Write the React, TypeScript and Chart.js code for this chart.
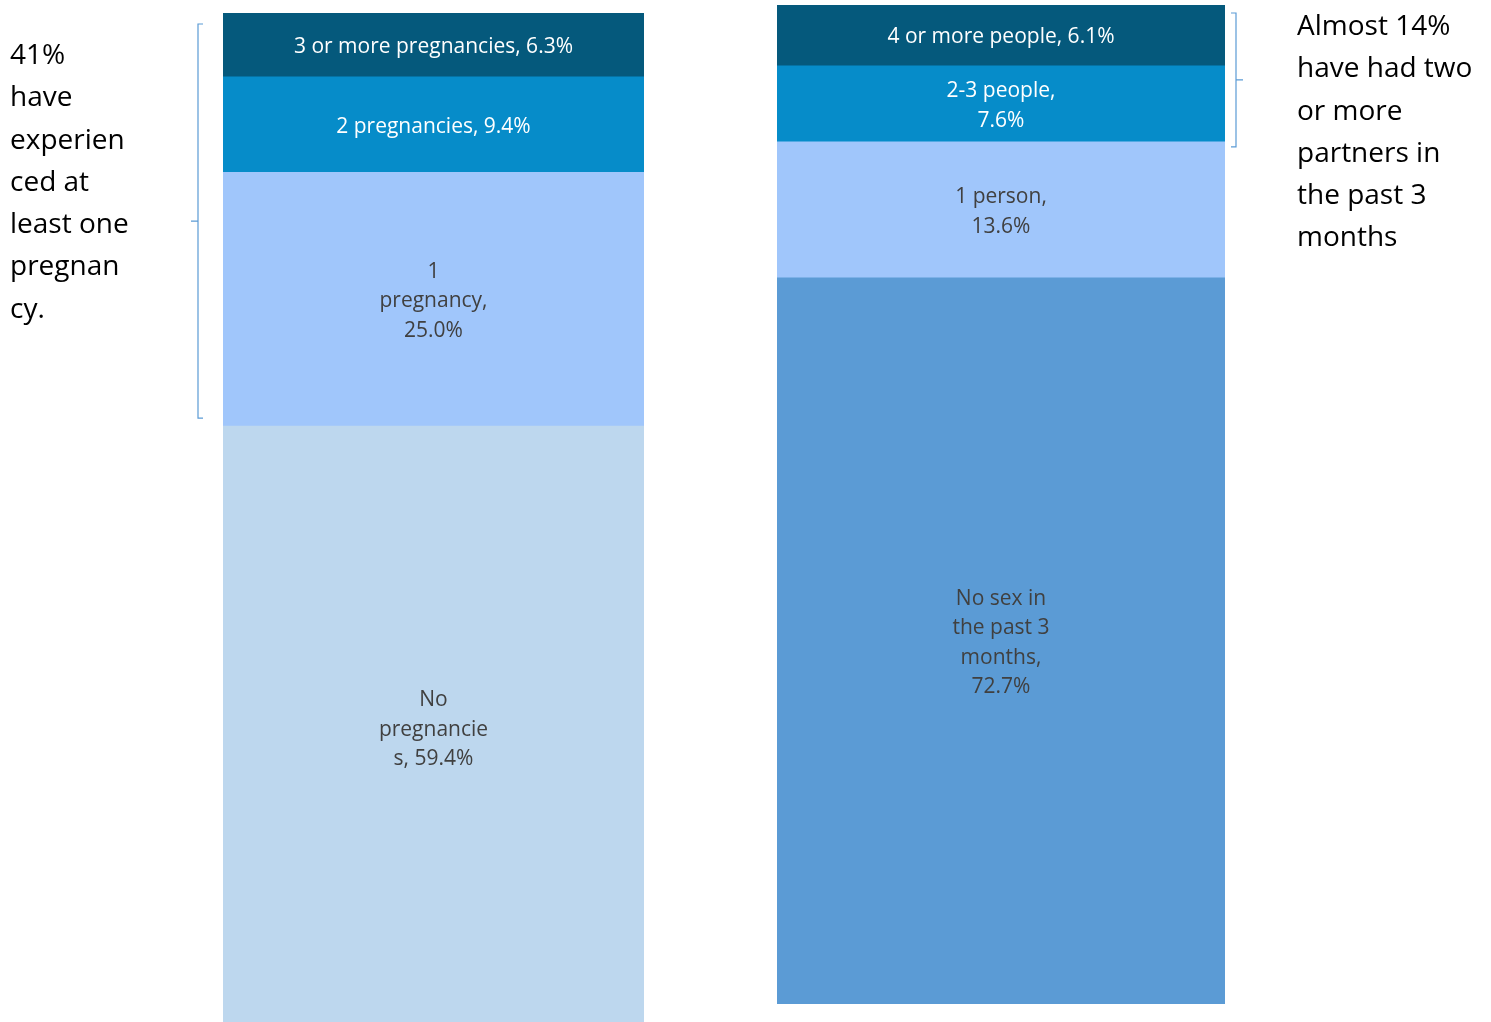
import React, { useEffect, useRef } from "react";
import { Chart, registerables } from "chart.js";
Chart.register(...registerables);

// Top-to-bottom order as shown in the picture
const leftCategories = ["3 or more pregnancies", "2 pregnancies", "1 pregnancy", "No pregnancies"];
const leftValues = [6.3, 9.4, 25.0, 59.4];
const leftLabelLines = [
  ["3 or more pregnancies, 6.3%"],
  ["2 pregnancies, 9.4%"],
  ["1", "pregnancy,", "25.0%"],
  ["No", "pregnancie", "s, 59.4%"],
];
const leftColors = ["#05597C", "#068CC9", "#A0C6FB", "#BDD7EE"];
const leftTextColors = ["#FFFFFF", "#FFFFFF", "#404040", "#404040"];
const leftNote = ["41%", "have", "experien", "ced at", "least one", "pregnan", "cy."];

const rightCategories = ["4 or more people", "2-3 people", "1 person", "No sex in the past 3 months"];
const rightValues = [6.1, 7.6, 13.6, 72.7];
const rightLabelLines = [
  ["4 or more people, 6.1%"],
  ["2-3 people,", "7.6%"],
  ["1 person,", "13.6%"],
  ["No sex in", "the past 3", "months,", "72.7%"],
];
const rightColors = ["#05597C", "#068CC9", "#A0C6FB", "#5B9BD5"];
const rightTextColors = ["#FFFFFF", "#FFFFFF", "#404040", "#404040"];
const rightNote = ["Almost 14%", "have had two", "or more", "partners in", "the past 3", "months"];

const W = 1491;
const H = 1022;
const LABEL_FONT = '21px "Open Sans", sans-serif';
const NOTE_FONT = '"Open Sans", sans-serif';

type Cfg = {
  categories: string[];
  values: number[];
  lines: string[][];
  colors: string[];
  textColors: string[];
  padding: { left: number; right: number; top: number; bottom: number };
  bracket: { side: "left" | "right"; count: number; x: number; insetTop: number; insetBottom: number };
};

function makeChart(canvas: HTMLCanvasElement, cfg: Cfg) {
  const n = cfg.values.length;
  const order = [...Array(n).keys()].reverse(); // bottom first for stacking
  const total = cfg.values.reduce((a, b) => a + b, 0);

  const labelPlugin = {
    id: "segLabels",
    afterDatasetsDraw(chart: any) {
      const ctx = chart.ctx;
      ctx.save();
      ctx.font = LABEL_FONT;
      ctx.textAlign = "center";
      ctx.textBaseline = "middle";
      chart.data.datasets.forEach((ds: any, di: number) => {
        const el = chart.getDatasetMeta(di).data[0];
        const idx = ds.srcIndex;
        const lines = cfg.lines[idx];
        const cy = (el.y + el.base) / 2 + 2;
        const lh = 29.5;
        ctx.fillStyle = cfg.textColors[idx];
        lines.forEach((ln: string, i: number) => {
          ctx.fillText(ln, el.x, cy + (i - (lines.length - 1) / 2) * lh);
        });
      });
      ctx.restore();
    },
  };

  const bracketPlugin = {
    id: "bracket",
    afterDraw(chart: any) {
      const y = chart.scales.y;
      const b = cfg.bracket;
      const topVal = total;
      let botVal = total;
      for (let i = 0; i < b.count; i++) botVal -= cfg.values[i];
      const y1 = y.getPixelForValue(topVal) + b.insetTop;
      const y2 = y.getPixelForValue(botVal) + b.insetBottom;
      const ym = (y1 + y2) / 2;
      const ctx = chart.ctx;
      ctx.save();
      ctx.strokeStyle = "#5B9BD5";
      ctx.lineWidth = 1.2;
      const dir = b.side === "left" ? 1 : -1; // hooks point toward bar
      ctx.beginPath();
      ctx.moveTo(b.x + dir * 5, y1);
      ctx.lineTo(b.x, y1);
      ctx.lineTo(b.x, y2);
      ctx.lineTo(b.x + dir * 5, y2);
      ctx.moveTo(b.x, ym);
      ctx.lineTo(b.x - dir * 7, ym);
      ctx.stroke();
      ctx.restore();
    },
  };

  return new Chart(canvas, {
    type: "bar",
    data: {
      labels: ["All"],
      datasets: order.map((i) => ({
        label: cfg.categories[i],
        data: [cfg.values[i]],
        backgroundColor: cfg.colors[i],
        borderWidth: 0,
        barPercentage: 1,
        categoryPercentage: 1,
        srcIndex: i,
      })) as any,
    },
    options: {
      animation: false,
      responsive: false,
      maintainAspectRatio: false,
      layout: { padding: cfg.padding },
      plugins: { legend: { display: false }, tooltip: { enabled: false } },
      scales: {
        x: { stacked: true, display: false },
        y: { stacked: true, display: false, min: 0, max: total },
      },
    },
    plugins: [labelPlugin, bracketPlugin],
  });
}

function Note({ lines, left, top }: { lines: string[]; left: number; top: number }) {
  return (
    <div
      style={{
        position: "absolute",
        left,
        top,
        fontFamily: NOTE_FONT,
        fontSize: 28,
        lineHeight: "42.3px",
        color: "#000",
        whiteSpace: "nowrap",
      }}
    >
      {lines.map((l, i) => (
        <div key={i}>{l}</div>
      ))}
    </div>
  );
}

const LEFT_CANVAS_H = 1029; // left bar runs past the bottom edge of the picture

export default function App() {
  const leftRef = useRef<HTMLCanvasElement>(null);
  const rightRef = useRef<HTMLCanvasElement>(null);

  useEffect(() => {
    document.body.style.margin = "0";
    document.body.style.overflow = "hidden";
    const c1 = makeChart(leftRef.current!, {
      categories: leftCategories,
      values: leftValues,
      lines: leftLabelLines,
      colors: leftColors,
      textColors: leftTextColors,
      padding: { left: 223, right: W - 644, top: 13, bottom: 0 },
      bracket: { side: "left", count: 3, x: 198, insetTop: 11, insetBottom: -8 },
    });
    const c2 = makeChart(rightRef.current!, {
      categories: rightCategories,
      values: rightValues,
      lines: rightLabelLines,
      colors: rightColors,
      textColors: rightTextColors,
      padding: { left: 777, right: W - 1225, top: 5, bottom: H - 1004 },
      bracket: { side: "right", count: 2, x: 1236, insetTop: 8, insetBottom: 5 },
    });
    return () => {
      c1.destroy();
      c2.destroy();
    };
  }, []);

  return (
    <div style={{ position: "absolute", left: 0, top: 0, width: W, height: H, background: "#fff", overflow: "hidden" }}>
      <canvas ref={leftRef} width={W} height={LEFT_CANVAS_H} style={{ position: "absolute", left: 0, top: 0 }} />
      <canvas ref={rightRef} width={W} height={H} style={{ position: "absolute", left: 0, top: 0 }} />
      <Note lines={leftNote} left={10} top={32} />
      <Note lines={rightNote} left={1297} top={3} />
    </div>
  );
}
